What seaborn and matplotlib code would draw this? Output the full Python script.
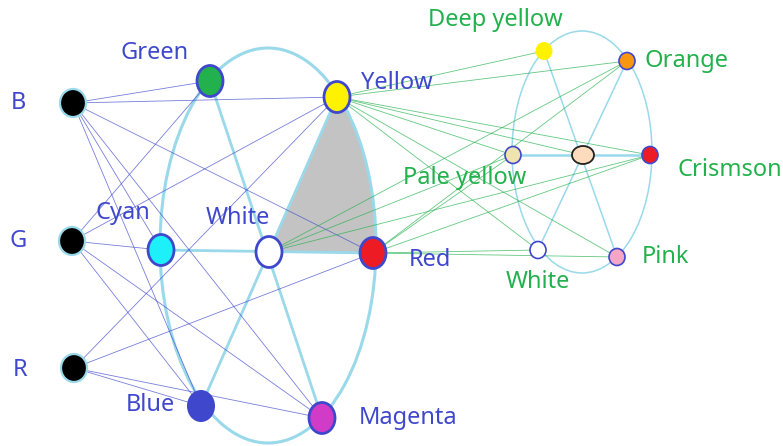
import numpy as np
import seaborn as sns
import matplotlib.pyplot as plt
from matplotlib.patches import Ellipse, Polygon

sns.set_theme(style="white")
plt.rcParams['font.family'] = ['Noto Sans', 'DejaVu Sans']

# node names and their positions (pixel space of the drawing)
node_names = ['B', 'G', 'R', 'Green', 'Yellow', 'Cyan', 'White', 'Red', 'Blue', 'Magenta',
              'Deep yellow', 'Orange', 'Pale yellow', 'Mid', 'Crismson', 'White2', 'Pink']
node_x = [73, 72, 74, 210, 337, 161, 269, 373, 201, 322, 544, 627, 513, 583, 650, 538, 617]
node_y = [103, 241, 368, 81, 97, 250, 252, 253, 406, 418, 51, 61, 155, 155, 155, 250, 257]
node_face = ['black', 'black', 'black', '#22B14C', '#FFF200', '#1EF0FA', 'white', '#ED1C24',
             '#3F48CC', '#D03CC8', '#FFF200', '#F7960F', '#EFE4B0', '#FCDCBC', '#ED1C24',
             'white', '#F4A6C4']

# connections
spokes_mid = [('Green', 'Magenta'), ('Yellow', 'Blue'), ('Cyan', 'Red')]
spokes_right = [('Deep yellow', 'Pink'), ('Orange', 'White2')]
spoke_right_h = [('Pale yellow', 'Crismson')]
rgb_links = [('B', 'Green'), ('B', 'Yellow'), ('B', 'Red'), ('B', 'Cyan'), ('B', 'Blue'), ('B', 'Magenta'),
             ('G', 'Green'), ('G', 'Yellow'), ('G', 'Cyan'), ('G', 'Blue'), ('G', 'Magenta'),
             ('R', 'Yellow'), ('R', 'Red'), ('R', 'Blue'), ('R', 'Magenta')]
mix_links = [('Yellow', 'Deep yellow'), ('Yellow', 'Orange'), ('Yellow', 'Pale yellow'), ('Yellow', 'Mid'),
             ('Yellow', 'Crismson'), ('Yellow', 'White2'), ('Yellow', 'Pink'),
             ('White', 'Orange'), ('White', 'Pale yellow'), ('White', 'Crismson'),
             ('Red', 'Orange'), ('Red', 'Pale yellow'), ('Red', 'Crismson'), ('Red', 'White2'), ('Red', 'Pink')]

# labels
blue_labels = ['B', 'G', 'R', 'Green', 'Yellow', 'Cyan', 'White', 'Red', 'Blue', 'Magenta']
blue_lx = [18, 18, 20, 155, 397, 123, 238, 430, 150, 408]
blue_ly = [103, 241, 370, 53, 83, 213, 218, 260, 405, 418]
green_labels = ['Deep yellow', 'Orange', 'Crismson', 'Pale yellow', 'White', 'Pink']
green_lx = [495, 686, 730, 465, 538, 666]
green_ly = [20, 61, 170, 178, 282, 257]

pos = {n: (x, y) for n, x, y in zip(node_names, node_x, node_y)}
BLUE = '#3F48CC'
GREEN = '#22B14C'
LBLUE = '#99D9EA'

fig = plt.figure(figsize=(7.83, 4.46), dpi=100)
ax = fig.add_axes([0, 0, 1, 1])
ax.set_xlim(0, 783)
ax.set_ylim(446, 0)
ax.axis('off')

# big ellipses
mid_c, mid_w, mid_h = (268, 245.5), 216, 395
right_c, right_w, right_h = (582, 152), 140, 242

# grey wedge: White -> Yellow -> arc -> Red
def ang(p, c, w, h):
    return np.arctan2((p[1] - c[1]) / (h / 2), (p[0] - c[0]) / (w / 2))
t = np.linspace(ang(pos['Yellow'], mid_c, mid_w, mid_h), ang(pos['Red'], mid_c, mid_w, mid_h), 60)
arc = np.column_stack([mid_c[0] + mid_w / 2 * np.cos(t), mid_c[1] + mid_h / 2 * np.sin(t)])
wedge = np.vstack([[pos['White']], arc, [pos['White']]])
ax.add_patch(Polygon(wedge, closed=True, facecolor='#C3C3C3', edgecolor='none', zorder=1))

ax.add_patch(Ellipse(mid_c, mid_w, mid_h, fill=False, edgecolor=LBLUE, lw=2.2, zorder=2))
ax.add_patch(Ellipse(right_c, right_w, right_h, fill=False, edgecolor=LBLUE, lw=1.1, zorder=2))

for a, b in spokes_mid:
    ax.plot([pos[a][0], pos[b][0]], [pos[a][1], pos[b][1]], color=LBLUE, lw=2.0, zorder=2)
for a, b in spokes_right:
    ax.plot([pos[a][0], pos[b][0]], [pos[a][1], pos[b][1]], color=LBLUE, lw=1.1, zorder=2)
for a, b in spoke_right_h:
    ax.plot([pos[a][0], pos[b][0]], [pos[a][1], pos[b][1]], color=LBLUE, lw=1.8, zorder=2)

for a, b in rgb_links:
    ax.plot([pos[a][0], pos[b][0]], [pos[a][1], pos[b][1]], color=BLUE, lw=0.6, alpha=0.7, zorder=3)
for a, b in mix_links:
    ax.plot([pos[a][0], pos[b][0]], [pos[a][1], pos[b][1]], color=GREEN, lw=0.6, alpha=0.7, zorder=3)

# nodes
for n, x, y, fc in zip(node_names, node_x, node_y, node_face):
    if n in ('B', 'G', 'R'):
        ax.add_patch(Ellipse((x, y), 26, 28, facecolor=fc, edgecolor=LBLUE, lw=1.6, zorder=5))
    elif n == 'Blue':
        ax.add_patch(Ellipse((x, y), 28, 32, facecolor=fc, edgecolor='none', zorder=5))
    elif n == 'Deep yellow':
        ax.add_patch(Ellipse((x, y), 17, 18, facecolor=fc, edgecolor='none', zorder=5))
    elif n == 'Mid':
        ax.add_patch(Ellipse((x, y), 22, 18, facecolor=fc, edgecolor='#222222', lw=1.3, zorder=5))
    elif node_names.index(n) >= 10:
        ax.add_patch(Ellipse((x, y), 16, 17, facecolor=fc, edgecolor=BLUE, lw=1.2, zorder=5))
    else:
        ax.add_patch(Ellipse((x, y), 26, 31, facecolor=fc, edgecolor=BLUE, lw=2.0, zorder=5))

for s, x, y in zip(blue_labels, blue_lx, blue_ly):
    ax.text(x, y, s, color=BLUE, fontsize=17, ha='center', va='center', zorder=6)
for s, x, y in zip(green_labels, green_lx, green_ly):
    ax.text(x, y, s, color=GREEN, fontsize=17, ha='center', va='center', zorder=6)

fig.savefig('out.png', dpi=100, facecolor='white')
